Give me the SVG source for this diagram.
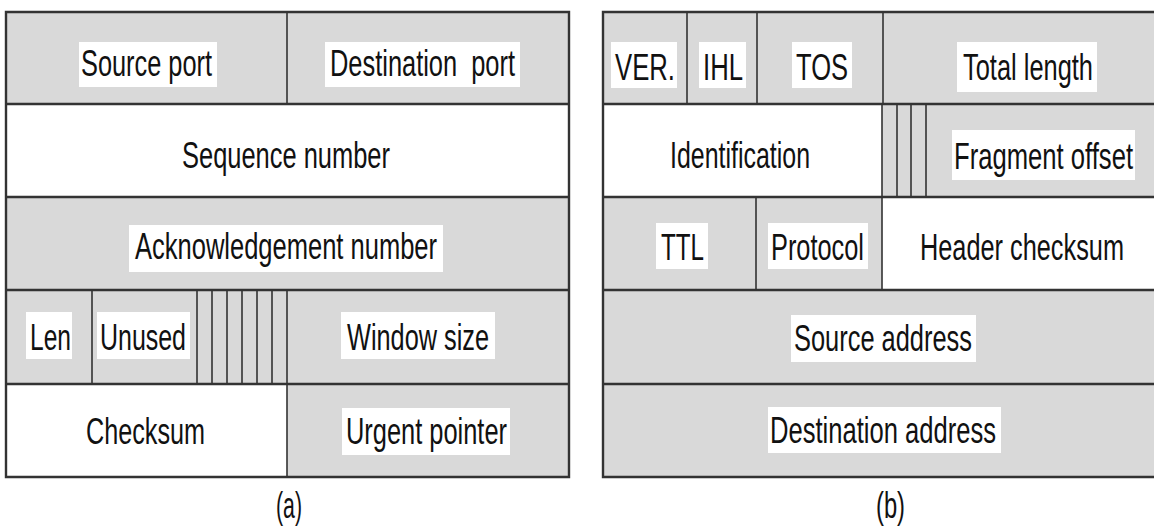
<svg xmlns="http://www.w3.org/2000/svg" width="1154" height="529" viewBox="0 0 1154 529">
<style>
.g{fill:#d9d9d9;stroke:none}
.w{fill:#ffffff;stroke:none}
.lb{fill:#ffffff;stroke:none}
.t{font-family:"Liberation Sans",Arial,sans-serif;font-size:36px;fill:#111;text-anchor:middle}
.h{stroke:#333;stroke-width:2.4;fill:none}
.v{stroke:#333;stroke-width:1.6;fill:none}
</style>
<rect width="1154" height="529" fill="#fff"/>
<g id="tcp">
<g id="source-port"><rect class="g" x="6" y="12" width="281" height="92"/><rect class="lb" x="79" y="42" width="138" height="45"/><text class="t" x="146.5" y="76" textLength="131" lengthAdjust="spacingAndGlyphs">Source port</text></g>
<g id="destination-port"><rect class="g" x="287" y="12" width="282" height="92"/><rect class="lb" x="325" y="42" width="195" height="45"/><text class="t" x="422.5" y="76" textLength="185" lengthAdjust="spacingAndGlyphs" xml:space="preserve">Destination  port</text></g>
<g id="sequence-number"><rect class="w" x="6" y="104" width="563" height="93"/><text class="t" x="286" y="168" textLength="208" lengthAdjust="spacingAndGlyphs">Sequence number</text></g>
<g id="ack-number"><rect class="g" x="6" y="197" width="563" height="93"/><rect class="lb" x="129" y="225" width="314" height="47"/><text class="t" x="286" y="259" textLength="302" lengthAdjust="spacingAndGlyphs">Acknowledgement number</text></g>
<g id="len"><rect class="g" x="6" y="290" width="86" height="94"/><rect class="lb" x="26" y="312" width="46" height="47"/><text class="t" x="50.5" y="350" textLength="41" lengthAdjust="spacingAndGlyphs">Len</text></g>
<g id="unused"><rect class="g" x="92" y="290" width="105" height="94"/><rect class="lb" x="97" y="312" width="93" height="47"/><text class="t" x="143" y="350" textLength="86" lengthAdjust="spacingAndGlyphs">Unused</text></g>
<g id="flags-tcp"><rect class="g" x="197" y="290" width="90" height="94"/></g>
<g id="window-size"><rect class="g" x="287" y="290" width="282" height="94"/><rect class="lb" x="341" y="312" width="154" height="47"/><text class="t" x="418" y="350" textLength="142" lengthAdjust="spacingAndGlyphs">Window size</text></g>
<g id="checksum"><rect class="w" x="6" y="384" width="281" height="93"/><text class="t" x="145.5" y="444" textLength="119" lengthAdjust="spacingAndGlyphs">Checksum</text></g>
<g id="urgent-pointer"><rect class="g" x="287" y="384" width="282" height="93"/><rect class="lb" x="342" y="408" width="168" height="47"/><text class="t" x="426.5" y="444" textLength="161" lengthAdjust="spacingAndGlyphs">Urgent pointer</text></g>
<g id="caption-a"><text class="t" x="289" y="518" textLength="26" lengthAdjust="spacingAndGlyphs">(a)</text></g>
</g>
<g id="ip">
<g id="ver"><rect class="g" x="603" y="12" width="84" height="92"/><rect class="lb" x="611" y="42" width="66" height="46"/><text class="t" x="645" y="80" textLength="60" lengthAdjust="spacingAndGlyphs">VER.</text></g>
<g id="ihl"><rect class="g" x="687" y="12" width="70" height="92"/><rect class="lb" x="699" y="42" width="47" height="46"/><text class="t" x="723" y="80" textLength="40" lengthAdjust="spacingAndGlyphs">IHL</text></g>
<g id="tos"><rect class="g" x="757" y="12" width="126" height="92"/><rect class="lb" x="792" y="42" width="60" height="46"/><text class="t" x="822" y="80" textLength="52" lengthAdjust="spacingAndGlyphs">TOS</text></g>
<g id="total-length"><rect class="g" x="883" y="12" width="271" height="92"/><rect class="lb" x="957" y="42" width="140" height="50"/><text class="t" x="1028" y="80" textLength="130" lengthAdjust="spacingAndGlyphs">Total length</text></g>
<g id="identification"><rect class="w" x="603" y="104" width="279" height="93"/><text class="t" x="740" y="168" textLength="140" lengthAdjust="spacingAndGlyphs">Identification</text></g>
<g id="flags-ip"><rect class="g" x="882" y="104" width="44" height="93"/></g>
<g id="fragment-offset"><rect class="g" x="926" y="104" width="228" height="93"/><rect class="lb" x="952" y="130" width="183" height="50"/><text class="t" transform="translate(1043.5,169) scale(0.75,1)" x="0" y="0" textLength="238.7" lengthAdjust="spacingAndGlyphs">Fragment offset</text></g>
<g id="ttl"><rect class="g" x="603" y="197" width="153" height="93"/><rect class="lb" x="656" y="223" width="52" height="46"/><text class="t" x="682.5" y="260" textLength="43" lengthAdjust="spacingAndGlyphs">TTL</text></g>
<g id="protocol"><rect class="g" x="756" y="197" width="126" height="93"/><rect class="lb" x="768" y="223" width="100" height="46"/><text class="t" x="817.5" y="260" textLength="93" lengthAdjust="spacingAndGlyphs">Protocol</text></g>
<g id="header-checksum"><rect class="w" x="882" y="197" width="272" height="93"/><text class="t" transform="translate(1022,260) scale(0.75,1)" x="0" y="0" textLength="272" lengthAdjust="spacingAndGlyphs">Header checksum</text></g>
<g id="source-address"><rect class="g" x="603" y="290" width="551" height="94"/><rect class="lb" x="791" y="315" width="185" height="47"/><text class="t" x="883" y="351" textLength="178" lengthAdjust="spacingAndGlyphs">Source address</text></g>
<g id="destination-address"><rect class="g" x="603" y="384" width="551" height="93"/><rect class="lb" x="768" y="407" width="233" height="46"/><text class="t" x="883" y="443" textLength="226" lengthAdjust="spacingAndGlyphs">Destination address</text></g>
<g id="caption-b"><text class="t" x="890.5" y="518" textLength="29" lengthAdjust="spacingAndGlyphs">(b)</text></g>
</g>
<g id="connectors">
<path class="h" d="M6,12H569V477H6Z"/>
<path class="h" d="M6,104H569M6,197H569M6,290H569M6,384H569"/>
<path class="v" d="M287,12V104M92,290V384M197,290V384M212,290V384M227,290V384M242,290V384M257,290V384M272,290V384M287,290V477"/>
<path class="h" d="M1156,12H603V477H1156"/>
<path class="h" d="M603,104H1154M603,197H1154M603,290H1154M603,384H1154"/>
<path class="v" d="M687,12V104M757,12V104M883,12V104M882,104V290M897,104V197M911,104V197M926,104V197M756,197V290"/>
</g>
</svg>
